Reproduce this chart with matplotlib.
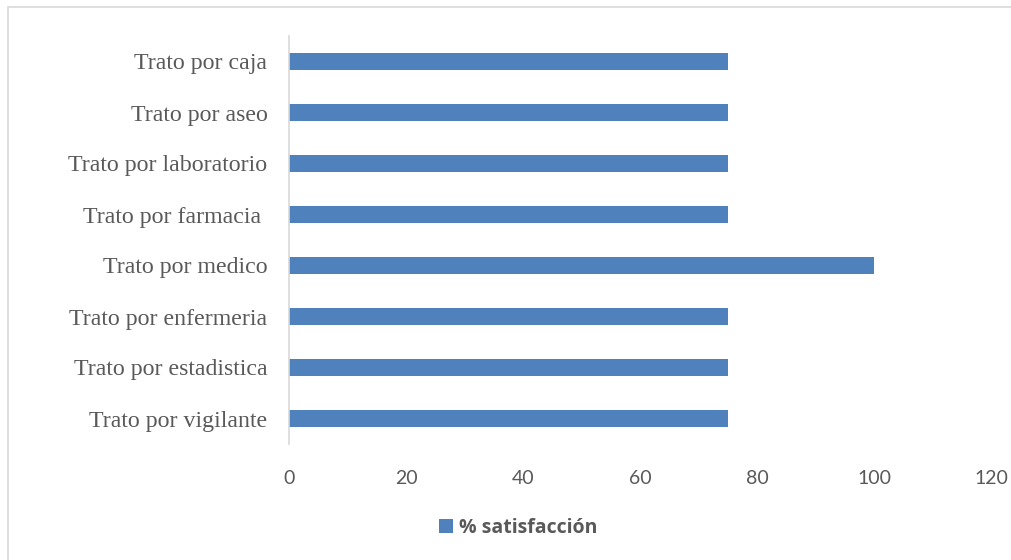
import matplotlib
matplotlib.use("Agg")
import matplotlib.pyplot as plt
from matplotlib.patches import Rectangle

categories = ["Trato por vigilante", "Trato por estadistica", "Trato por enfermeria",
              "Trato por medico", "Trato por farmacia ", "Trato por laboratorio",
              "Trato por aseo", "Trato por caja"]
values = [75, 75, 75, 100, 75, 75, 75, 75]
xticks = [0, 20, 40, 60, 80, 100, 120]
series_name = "% satisfacción"

W, H = 1011, 560
fig = plt.figure(figsize=(W / 100, H / 100), dpi=100)
ax = fig.add_axes([289 / W, 1 - 444 / H, (991 - 289) / W, (444 - 36) / H])

ypos = list(range(len(categories)))
bars = ax.barh(ypos, values, height=0.35, color="#4F81BD", label=series_name)
ax.set_xlim(0, 120)
ax.set_ylim(-0.5, len(categories) - 0.5)
ax.set_yticks(ypos)
ax.set_yticklabels(categories, family="Liberation Serif", fontsize=17.2, color="#595959")
ax.set_xticks(xticks)
ax.set_xticklabels([str(t) for t in xticks], family="Lato", fontsize=14, color="#595959")
ax.tick_params(axis="both", length=0)
ax.tick_params(axis="y", pad=15.5)
ax.tick_params(axis="x", pad=18.5)
for s in ["top", "right", "bottom"]:
    ax.spines[s].set_visible(False)
ax.spines["left"].set_color("#D9D9D9")
ax.spines["left"].set_linewidth(1.2)

fig.legend(handles=[bars], labels=[series_name], loc="center", bbox_to_anchor=(518 / W, 1 - 528 / H),
           frameon=False, prop={"family": "Open Sans", "weight": "bold", "size": 14},
           handlelength=0.7, handleheight=0.7, handletextpad=0.3, labelcolor="#595959")

fig.patches.append(Rectangle((8 / W, -0.2), 1.2, 1.2 - 7 / H, transform=fig.transFigure,
                             fill=False, edgecolor="#D9D9D9", linewidth=1.2))
fig.savefig("out.png", dpi=100)
